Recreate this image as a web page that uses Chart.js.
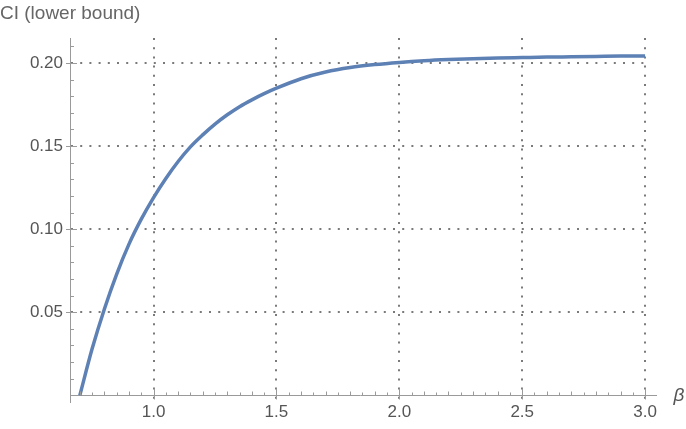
<!DOCTYPE html>
<html>
<head>
<meta charset="utf-8">
<script src="https://cdn.jsdelivr.net/npm/chart.js@4.4.1/dist/chart.umd.min.js"></script>
<style>
  html, body { margin: 0; padding: 0; background: #fff; }
  #wrap { width: 686px; height: 429px; }
</style>
</head>
<body>
<div id="wrap"><canvas id="chart"></canvas></div>
<script>
// beta values and the lower bound of CI
const betas = [0.70, 0.75, 0.80, 0.85, 0.90, 0.95, 1.00, 1.05, 1.10, 1.15, 1.20, 1.25, 1.30,
  1.35, 1.40, 1.45, 1.50, 1.60, 1.70, 1.80, 1.90, 2.00, 2.10, 2.20, 2.30, 2.40, 2.50,
  2.60, 2.70, 2.80, 2.90, 3.00];
const ciLower = [0.000, 0.028, 0.052, 0.073, 0.091, 0.106, 0.119, 0.1305, 0.1407, 0.1495,
  0.1567, 0.1632, 0.1688, 0.1737, 0.1778, 0.1815, 0.1848, 0.1905, 0.1945, 0.1972, 0.1990,
  0.2003, 0.2013, 0.2020, 0.2025, 0.2029, 0.2032, 0.2035, 0.2037, 0.2039, 0.2041, 0.2042];

const xTicks = [1.0, 1.5, 2.0, 2.5, 3.0];
const yTicks = [0.05, 0.10, 0.15, 0.20];

const axisColor = '#9a9a9a';
const labelColor = '#555';
const font = "'Liberation Sans', Arial, sans-serif";

// Mathematica style: inward minor ticks, beta label at the end of the axis
const axisExtras = {
  id: 'axisExtras',
  afterDraw(chart) {
    const { ctx, scales: { x, y } } = chart;
    const x0 = x.left;
    const y0 = Math.round(y.getPixelForValue(0)) + 0.5;
    ctx.save();
    ctx.strokeStyle = axisColor;
    ctx.lineWidth = 1;
    ctx.beginPath();
    // y ticks every 0.01
    for (let i = 0; i <= 21; i++) {
      const py = Math.round(y.getPixelForValue(i / 100)) + 0.5;
      const major = i % 5 === 0 && i > 0;
      ctx.moveTo(major ? x0 - 4 : x0, py);
      ctx.lineTo(x0 + (major ? 7 : 4), py);
    }
    // x ticks every 0.05
    for (let i = 14; i <= 60; i++) {
      const px = Math.round(x.getPixelForValue(i / 20)) + 0.5;
      const major = i % 10 === 0;
      ctx.moveTo(px, major ? y0 + 4 : y0);
      ctx.lineTo(px, y0 - (major ? 7 : (i % 2 === 0 ? 4 : 3)));
    }
    // extend x axis a little past the plot
    ctx.moveTo(x.right, y0);
    ctx.lineTo(x.right + 7, y0);
    ctx.stroke();
    ctx.fillStyle = labelColor;
    ctx.font = "italic 19px " + font;
    ctx.textAlign = 'center';
    ctx.textBaseline = 'middle';
    ctx.fillText('β', 679, y0);
    ctx.restore();
  }
};

new Chart(document.getElementById('chart'), {
  type: 'line',
  data: {
    datasets: [{
      data: betas.map((b, i) => ({ x: b, y: ciLower[i] })),
      borderColor: 'rgb(94,129,181)',
      borderWidth: 3.5,
      pointRadius: 0,
      cubicInterpolationMode: 'monotone',
      fill: false
    }]
  },
  options: {
    responsive: true,
    maintainAspectRatio: false,
    animation: false,
    layout: { padding: { top: 0, right: 36, left: 0, bottom: 27 } },
    plugins: {
      legend: { display: false },
      tooltip: { enabled: false },
      title: {
        display: true,
        text: 'CI (lower bound)',
        align: 'start',
        color: '#666',
        font: { family: font, size: 19, weight: 'normal' },
        padding: { top: 2, bottom: 13.2 }
      }
    },
    scales: {
      x: {
        type: 'linear',
        min: 0.66,
        max: 3.02,
        position: { y: 0 },
        afterBuildTicks: s => { s.ticks = xTicks.map(v => ({ value: v })); },
        ticks: {
          color: labelColor,
          font: { family: font, size: 17 },
          padding: 7,
          maxRotation: 0,
          callback: v => v.toFixed(1)
        },
        grid: { color: '#7a7a7a', lineWidth: 2, drawTicks: false },
        border: { color: axisColor, width: 1, dash: [2, 7.2] }
      },
      y: {
        type: 'linear',
        min: -0.004,
        max: 0.215,
        afterBuildTicks: s => { s.ticks = yTicks.map(v => ({ value: v })); },
        afterFit: s => { s.width = 70; },
        ticks: {
          color: labelColor,
          font: { family: font, size: 17 },
          padding: 7,
          callback: v => v.toFixed(2)
        },
        grid: { color: '#7a7a7a', lineWidth: 2, drawTicks: false },
        border: { color: axisColor, width: 1, dash: [2, 7.2] }
      }
    }
  },
  plugins: [axisExtras]
});
</script>
</body>
</html>
